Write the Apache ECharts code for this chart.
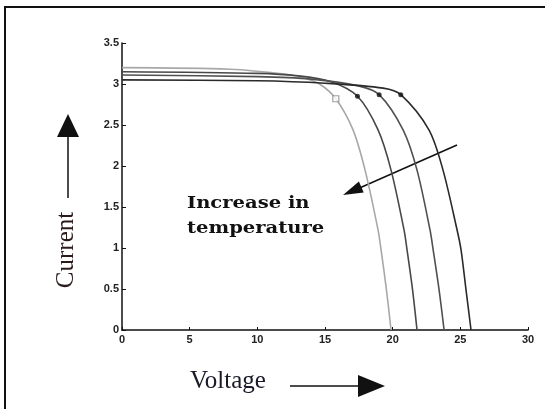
<!DOCTYPE html>
<html><head><meta charset="utf-8">
<script src="https://cdn.jsdelivr.net/npm/echarts@6/dist/echarts.min.js"></script>
<style>html,body{margin:0;padding:0;background:#fff}#c{width:545px;height:409px}</style>
</head><body><div id="c"></div>
<script>
// I-V curves at four temperatures (hottest = leftmost)
const voltageA = [0, 8, 12, 13.5, 14.6, 15.8, 17.07, 17.96, 18.92, 19.14, 19.54, 19.88];
const currentA = [3.2, 3.18, 3.12, 3.07, 3.0, 2.82, 2.44, 1.95, 1.22, 0.98, 0.49, 0];
const voltageB = [0, 10, 13, 15.4, 17.4, 18.92, 19.88, 20.84, 21.06, 21.47, 21.8];
const currentB = [3.15, 3.13, 3.1, 3.03, 2.85, 2.44, 1.95, 1.22, 0.98, 0.49, 0];
const voltageC = [0, 10, 14, 17.4, 19.0, 20.77, 21.8, 22.76, 22.99, 23.43, 23.8];
const currentC = [3.11, 3.09, 3.06, 2.98, 2.87, 2.44, 1.95, 1.22, 0.98, 0.49, 0];
const voltageD = [0, 10, 15, 19.3, 20.6, 22.68, 23.72, 24.76, 25.05, 25.42, 25.79];
const currentD = [3.05, 3.04, 3.01, 2.95, 2.87, 2.44, 1.95, 1.22, 0.98, 0.49, 0];
// maximum power points
const mppVoltage = [15.8, 17.4, 19.0, 20.6];
const mppCurrent = [2.82, 2.85, 2.87, 2.87];
const xTicks = [0, 5, 10, 15, 20, 25, 30];
const yTicks = [0, 0.5, 1, 1.5, 2, 2.5, 3, 3.5];

const pairs = (xs, ys) => xs.map((x, i) => [x, ys[i]]);
const curveColors = ['#a8a8a8', '#484848', '#505050', '#2a2a2a'];
const curves = [[voltageA, currentA], [voltageB, currentB], [voltageC, currentC], [voltageD, currentD]];

const chart = echarts.init(document.getElementById('c'), null, {renderer: 'canvas'});
const axisLabel = {fontSize: 11, fontWeight: 'bold', color: '#222', fontFamily: 'Liberation Sans'};
const series = curves.map((c, i) => ({
  type: 'line', data: pairs(c[0], c[1]), smooth: 0.3, showSymbol: false,
  lineStyle: {color: curveColors[i], width: 1.6}, animation: false, z: 2
}));
series.push({
  type: 'scatter', z: 3, animation: false,
  data: mppVoltage.map((v, i) => ({
    value: [v, mppCurrent[i]],
    symbol: i === 0 ? 'rect' : 'circle',
    symbolSize: i === 0 ? 6 : 5,
    itemStyle: i === 0 ? {color: '#fff', borderColor: '#888', borderWidth: 1.2} : {color: '#111'}
  }))
});

const arrowHead = (tip, dir, len, half) => {
  const [dx, dy] = dir; const n = Math.hypot(dx, dy); const ux = dx / n, uy = dy / n;
  const bx = tip[0] - ux * len, by = tip[1] - uy * len;
  return [tip, [bx - uy * half, by + ux * half], [bx + uy * half, by - ux * half]];
};

chart.setOption({
  animation: false,
  grid: {left: 122, right: 17, top: 43, bottom: 79},
  xAxis: {
    type: 'value', min: xTicks[0], max: xTicks[xTicks.length - 1], interval: 5,
    axisLine: {lineStyle: {color: '#111', width: 1.5}},
    axisTick: {inside: true, length: 3, lineStyle: {color: '#111'}},
    splitLine: {show: false}, axisLabel: Object.assign({margin: 4}, axisLabel)
  },
  yAxis: {
    type: 'value', min: yTicks[0], max: yTicks[yTicks.length - 1], interval: 0.5,
    axisLine: {show: true, lineStyle: {color: '#111', width: 1.5}},
    axisTick: {show: true, inside: true, length: 4, lineStyle: {color: '#111'}},
    splitLine: {show: false}, axisLabel: Object.assign({margin: 3}, axisLabel)
  },
  series: series,
  graphic: [
    {type: 'rect', shape: {x: 5, y: 7, width: 545, height: 410}, style: {fill: 'none', stroke: '#111', lineWidth: 2}, silent: true},
    // Current arrow
    {type: 'line', shape: {x1: 68, y1: 198, x2: 68, y2: 130}, style: {stroke: '#111', lineWidth: 1.5}},
    {type: 'polygon', shape: {points: arrowHead([68, 114], [0, -1], 23, 11)}, style: {fill: '#111'}},
    {type: 'text', x: 66, y: 250, rotation: Math.PI / 2, style: {text: 'Current', font: '25px "Liberation Serif"', fill: '#2a1a1a', align: 'center', verticalAlign: 'middle'}},
    // Voltage arrow
    {type: 'text', x: 190, y: 381, style: {text: 'Voltage', font: '25px "Liberation Serif"', fill: '#1a1a2a', align: 'left', verticalAlign: 'middle'}},
    {type: 'line', shape: {x1: 290, y1: 386, x2: 365, y2: 386}, style: {stroke: '#111', lineWidth: 1.5}},
    {type: 'polygon', shape: {points: arrowHead([385, 386], [1, 0], 27, 11)}, style: {fill: '#111'}},
    // Increase in temperature
    {type: 'text', x: 187, y: 204, scaleX: 1.15, style: {text: 'Increase in', font: 'bold 17px "DejaVu Serif"', fill: '#111', align: 'left', verticalAlign: 'middle'}},
    {type: 'text', x: 187, y: 229, scaleX: 1.15, style: {text: 'temperature', font: 'bold 17px "DejaVu Serif"', fill: '#111', align: 'left', verticalAlign: 'middle'}},
    {type: 'line', shape: {x1: 457, y1: 145, x2: 355, y2: 190}, style: {stroke: '#111', lineWidth: 1.5}},
    {type: 'polygon', shape: {points: arrowHead([343, 195], [-114, 50], 20, 6)}, style: {fill: '#111'}}
  ]
});
</script></body></html>
